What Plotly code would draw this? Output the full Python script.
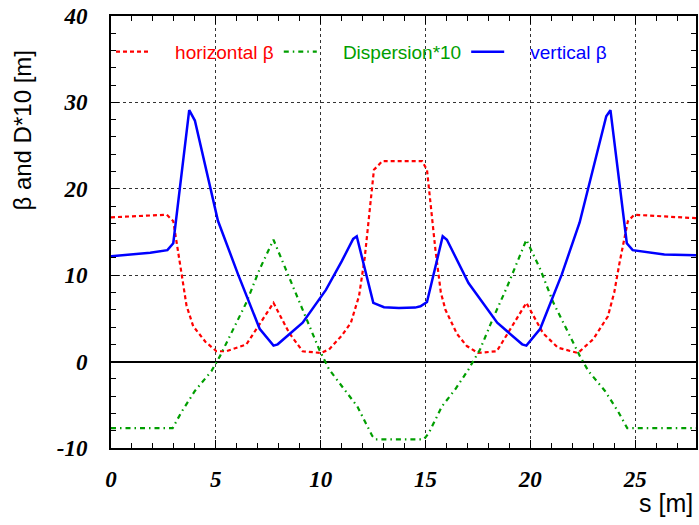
import plotly.graph_objects as go

# Lattice functions along the cell, s in metres
s_betx = [0.0, 1.0, 1.87, 2.66, 2.97, 3.2, 3.37, 3.6, 3.92, 4.5, 5.03, 5.5, 6.45, 7.75,
          8.5, 9.14, 10.0, 10.4, 11.0, 11.44, 11.83, 12.1, 12.31, 12.54, 12.94, 14.84,
          15.07, 15.27, 15.47, 15.73, 15.95, 16.5, 16.97, 17.5, 18.4, 19.81, 20.6, 21.32,
          22.27, 23.0, 23.7, 24.0, 24.25, 24.65, 24.96, 26.4, 27.9]
betx = [16.7, 16.8, 16.85, 17.0, 16.25, 13.0, 10.1, 6.5, 4.1, 2.3, 1.2, 1.2, 1.97, 6.8,
        3.3, 1.2, 1.0, 1.4, 3.0, 4.5, 7.6, 12.0, 16.8, 22.2, 23.2, 23.2,
        22.2, 17.5, 13.0, 8.0, 6.0, 3.2, 1.8, 1.0, 1.2, 6.8, 3.3, 1.6,
        1.0, 2.6, 5.25, 8.0, 11.4, 16.25, 17.0, 16.8, 16.6]

s_disp = [0.0, 2.94, 3.37, 4.0, 4.79, 5.19, 6.45, 7.09, 7.75, 8.67, 9.3, 9.93, 10.4,
          11.04, 11.75, 12.46, 12.62, 14.92, 15.15, 15.78, 16.42, 17.05, 17.6, 18.2,
          18.9, 19.81, 20.47, 21.1, 22.37, 22.77, 23.56, 24.19, 24.62, 27.9]
disp10 = [-7.7, -7.7, -5.8, -3.4, -1.1, 0.6, 6.8, 10.7, 14.1, 8.7, 4.9, 1.4, -0.9,
          -2.9, -5.2, -8.6, -9.0, -9.0, -8.3, -5.2, -3.2, -0.9, 1.4, 4.9,
          8.7, 14.1, 10.7, 6.8, 0.6, -1.1, -3.4, -5.8, -7.7, -7.7]

s_bety = [0.0, 1.0, 1.87, 2.69, 2.97, 3.73, 4.0, 5.1, 6.06, 7.09, 7.75, 7.95, 9.14,
          10.25, 11.0, 11.55, 11.72, 12.51, 13.02, 13.73, 14.5, 14.76, 15.07, 15.82,
          16.02, 17.05, 18.42, 19.61, 19.81, 20.47, 21.5, 22.35, 23.62, 23.82, 24.6,
          24.88, 26.39, 27.9]
bety = [12.2, 12.4, 12.6, 12.9, 13.7, 29.1, 27.9, 16.3, 10.1, 3.8, 1.85, 2.0, 4.5,
        8.3, 11.6, 14.2, 14.5, 6.8, 6.3, 6.2, 6.25, 6.4, 6.9, 14.5,
        14.1, 9.1, 4.5, 2.0, 1.85, 3.8, 10.1, 16.1, 28.4, 29.1, 13.7,
        12.9, 12.4, 12.3]

x_ticks = [0, 5, 10, 15, 20, 25]
y_ticks = [-10, 0, 10, 20, 30, 40]

RED, GREEN, BLUE = "#ff0000", "#009e00", "#0000ff"
PAD = "\u00a0" * 4

fig = go.Figure()
fig.add_trace(go.Scatter(
    x=s_betx, y=betx, mode="lines",
    name=f'<span style="color:{RED}">{PAD}horizontal β</span>',
    line=dict(color=RED, width=2.2, dash="4px,3px")))
fig.add_trace(go.Scatter(
    x=s_disp, y=disp10, mode="lines",
    name=f'<span style="color:{GREEN}">{PAD}Dispersion*10</span>',
    line=dict(color=GREEN, width=2.2, dash="5px,4px,1.5px,4px")))
fig.add_trace(go.Scatter(
    x=s_bety, y=bety, mode="lines",
    name=f'<span style="color:{BLUE}">{PAD}vertical β</span>',
    line=dict(color=BLUE, width=2.5)))

tick_font = dict(family="Liberation Serif", size=23, color="black",
                 weight="bold", style="italic")

fig.update_layout(
    width=699, height=525,
    margin=dict(l=111, r=1, t=16, b=77),
    paper_bgcolor="white", plot_bgcolor="white",
    font=dict(family="Liberation Sans", color="black"),
    showlegend=True,
    legend=dict(orientation="h", x=0.0, xanchor="left", y=0.917, yanchor="middle",
                bgcolor="rgba(0,0,0,0)", font=dict(size=19, family="Liberation Sans"),
                itemwidth=33, tracegroupgap=0),
    xaxis=dict(range=[0, 27.9], tickvals=x_ticks, ticktext=[str(v) for v in x_ticks],
               ticks="inside", ticklen=8, tickwidth=1.2, tickcolor="black",
               showline=True, linewidth=2, linecolor="black", mirror="allticks",
               showgrid=True, gridcolor="#333333", gridwidth=1, griddash="dot",
               zeroline=False, tickfont=tick_font, ticklabelstandoff=9,
               minor=dict(dtick=1, ticks="inside", ticklen=5, tickwidth=1.2,
                          tickcolor="black", showgrid=False)),
    yaxis=dict(range=[-10, 40], tickvals=y_ticks, ticktext=[str(v) for v in y_ticks],
               ticks="inside", ticklen=8, tickwidth=1.2, tickcolor="black",
               showline=True, linewidth=2, linecolor="black", mirror="allticks",
               showgrid=True, gridcolor="#333333", gridwidth=1, griddash="dot",
               zeroline=True, zerolinecolor="black", zerolinewidth=2,
               tickfont=tick_font, ticklabelstandoff=17,
               minor=dict(dtick=2, ticks="inside", ticklen=5, tickwidth=1.2,
                          tickcolor="black", showgrid=False)),
    annotations=[
        dict(text="β and D*10 [m]", xref="paper", yref="paper",
             x=-0.152, y=0.735, xanchor="center", yanchor="middle",
             textangle=-90, showarrow=False,
             font=dict(size=24, family="Liberation Sans", color="black")),
        dict(text="s [m]", xref="paper", yref="paper",
             x=0.998, y=-0.127, xanchor="right", yanchor="middle",
             showarrow=False,
             font=dict(size=25, family="Liberation Sans", color="black")),
    ],
)

fig.write_html("out.html")
